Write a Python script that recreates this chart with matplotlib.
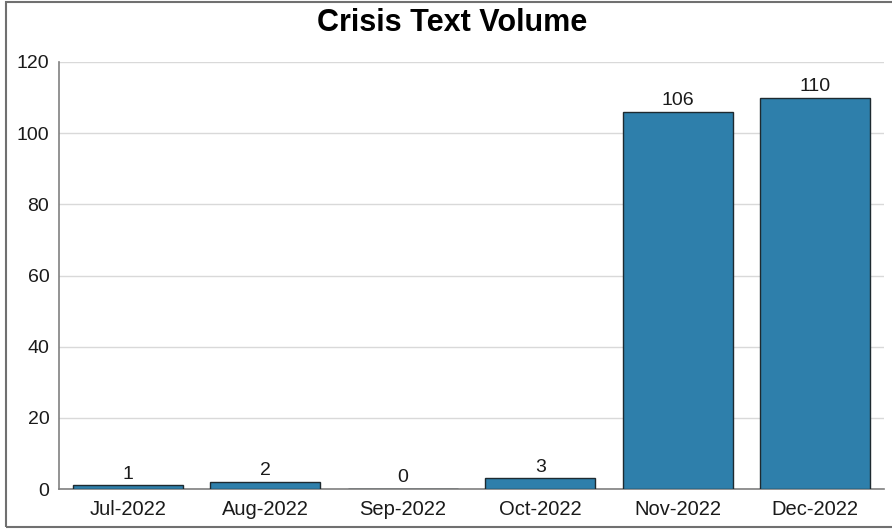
import matplotlib.pyplot as plt
from matplotlib.patches import Rectangle

# monthly crisis text counts
months = ['Jul-2022', 'Aug-2022', 'Sep-2022', 'Oct-2022', 'Nov-2022', 'Dec-2022']
volumes = [1, 2, 0, 3, 106, 110]

plt.rcParams['font.family'] = ['Liberation Sans', 'DejaVu Sans']

fig = plt.figure(figsize=(8.92, 5.3), dpi=100)
ax = fig.add_axes([59 / 892, 41 / 530, 825 / 892, 427 / 530])

x = list(range(len(months)))
bars = ax.bar(x, volumes, width=0.8, color='#2e7fab', edgecolor='#1e2a30',
              linewidth=1.0, zorder=3)
for b, v in zip(bars, volumes):
    ax.annotate(str(v), (b.get_x() + b.get_width() / 2, v),
                xytext=(0, 2), textcoords='offset points',
                ha='center', va='bottom', fontsize=14, color='#1a1a1a')

ax.set_xlim(-0.5, len(months) - 0.5)
ax.set_ylim(0, 120)
ax.set_yticks(range(0, 121, 20))
ax.set_xticks(x)
ax.set_xticklabels(months)
ax.tick_params(axis='both', length=0, colors='#1a1a1a')
ax.tick_params(axis='y', pad=7, labelsize=14)
ax.tick_params(axis='x', pad=8, labelsize=14.5)
ax.grid(axis='y', color='#d9d9d9', linewidth=1.0, zorder=0)

for s in ['top', 'right']:
    ax.spines[s].set_visible(False)
for s in ['left', 'bottom']:
    ax.spines[s].set_color('#808080')
    ax.spines[s].set_linewidth(1.2)

fig.text(452 / 892, 1 - 23 / 530, 'Crisis Text Volume', ha='center', va='center',
         fontsize=22, fontweight='bold', color='#000000')

# outer frame
fig.patches.append(Rectangle((6 / 892, 3 / 530), 1.0, 1 - 5 / 530,
                             transform=fig.transFigure, fill=False,
                             edgecolor='#707070', linewidth=1.5))

fig.savefig('out.png', dpi=100)
